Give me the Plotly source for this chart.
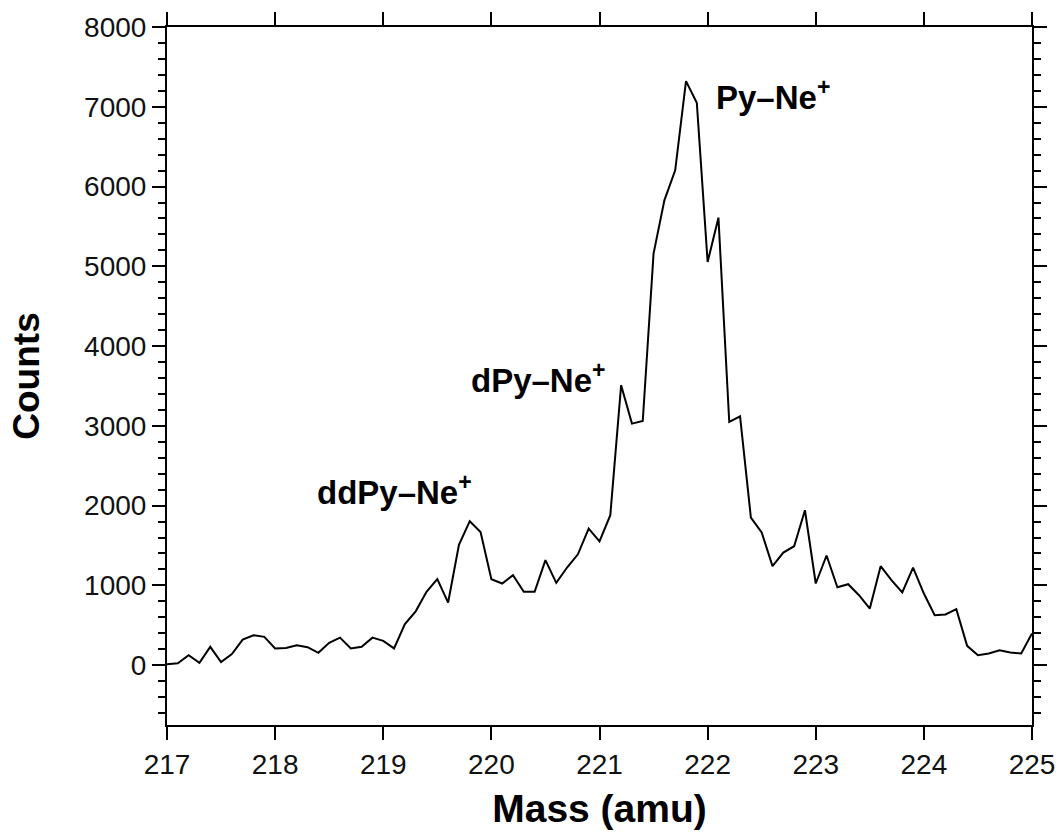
import plotly.graph_objects as go

mass = [217.0, 217.1, 217.2, 217.3, 217.4, 217.5, 217.6, 217.7, 217.8, 217.9,
        218.0, 218.1, 218.2, 218.3, 218.4, 218.5, 218.6, 218.7, 218.8, 218.9,
        219.0, 219.1, 219.2, 219.3, 219.4, 219.5, 219.6, 219.7, 219.8, 219.9,
        220.0, 220.1, 220.2, 220.3, 220.4, 220.5, 220.6, 220.7, 220.8, 220.9,
        221.0, 221.1, 221.2, 221.3, 221.4, 221.5, 221.6, 221.7, 221.8, 221.9,
        222.0, 222.1, 222.2, 222.3, 222.4, 222.5, 222.6, 222.7, 222.8, 222.9,
        223.0, 223.1, 223.2, 223.3, 223.4, 223.5, 223.6, 223.7, 223.8, 223.9,
        224.0, 224.1, 224.2, 224.3, 224.4, 224.5, 224.6, 224.7, 224.8, 224.9,
        225.0]

counts = [10, 25, 125, 30, 230, 40, 140, 320, 375, 355,
          210, 215, 250, 225, 155, 280, 345, 210, 230, 345,
          305, 210, 515, 675, 920, 1080, 785, 1510, 1805, 1670,
          1078, 1024, 1128, 920, 920, 1316, 1032, 1224, 1390, 1713,
          1553, 1880, 3510, 3028, 3061, 5159, 5827, 6203, 7322, 7051,
          5054, 5610, 3049, 3120, 1851, 1663, 1241, 1412, 1491, 1942,
          1024, 1375, 977, 1015, 877, 710, 1241, 1065, 911, 1224,
          898, 627, 635, 702, 242, 125, 146, 188, 159, 146,
          397]

x_ticks = [217, 218, 219, 220, 221, 222, 223, 224, 225]
y_ticks = [0, 1000, 2000, 3000, 4000, 5000, 6000, 7000, 8000]

labels = ["Py\u2013Ne<sup>+</sup>", "dPy\u2013Ne<sup>+</sup>", "ddPy\u2013Ne<sup>+</sup>"]
label_x = [222.06, 219.79, 218.37]
label_y = [7150, 3600, 2190]

FONT = "Liberation Sans, Arial, sans-serif"

fig = go.Figure()
fig.add_trace(go.Scatter(x=mass, y=counts, mode="lines",
                         line=dict(color="black", width=2), showlegend=False))

for t, xx, yy in zip(labels, label_x, label_y):
    fig.add_annotation(x=xx, y=yy, xref="x", yref="y", text="<b>" + t + "</b>",
                       showarrow=False, xanchor="left", yanchor="middle",
                       font=dict(family=FONT, size=33, color="black"))

fig.update_layout(
    width=1060, height=838,
    margin=dict(l=167, r=28, t=27, b=113),
    paper_bgcolor="white", plot_bgcolor="white",
    font=dict(family=FONT, color="#111"),
)
fig.update_xaxes(
    range=[217, 225], tickvals=x_ticks, ticktext=[str(v) for v in x_ticks],
    automargin=False,
    showgrid=False, zeroline=False, showline=True, linecolor="black", linewidth=2,
    mirror="ticks", ticks="outside", ticklen=13, tickwidth=2, tickcolor="black",
    tickfont=dict(family=FONT, size=28, color="#111"),
    title=dict(text="<b>Mass (amu)</b>", font=dict(family=FONT, size=39, color="black"), standoff=16),
)
fig.update_yaxes(
    range=[-750, 8000], tickvals=y_ticks, ticktext=[str(v) for v in y_ticks],
    automargin=False,
    showgrid=False, zeroline=False, showline=True, linecolor="black", linewidth=2,
    mirror="ticks", ticks="outside", ticklen=13, tickwidth=2, tickcolor="black",
    tickfont=dict(family=FONT, size=28, color="#111"),
    minor=dict(tickvals=[v for v in range(-600, 8000, 200) if v % 1000 != 0],
               ticks="outside", ticklen=7, tickwidth=2, tickcolor="black", showgrid=False),
    title=dict(text="<b>Counts</b>", font=dict(family=FONT, size=37, color="black"), standoff=33),
)

fig.write_html("out.html")
